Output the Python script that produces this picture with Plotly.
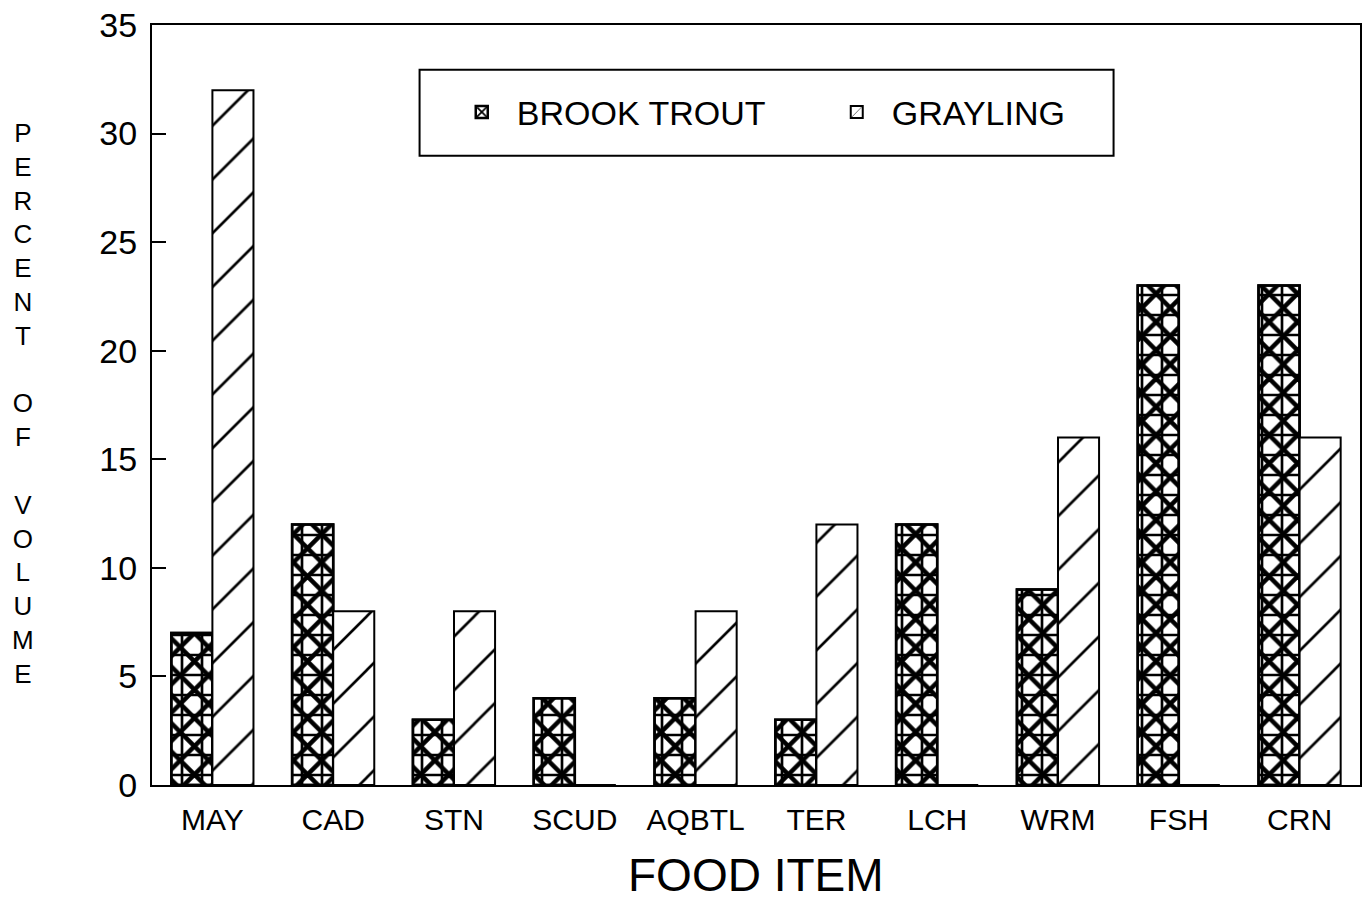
import plotly.graph_objects as go

categories = ["MAY", "CAD", "STN", "SCUD", "AQBTL", "TER", "LCH", "WRM", "FSH", "CRN"]
brook_trout = [7, 12, 3, 4, 4, 3, 12, 9, 23, 23]
grayling = [32, 8, 8, 0, 8, 12, 0, 16, 0, 16]
y_ticks = [0, 5, 10, 15, 20, 25, 30, 35]

FONT = "Liberation Sans, Arial, sans-serif"

fig = go.Figure()
fig.add_trace(go.Bar(
    x=categories, y=brook_trout, name="BROOK TROUT", offsetgroup="bt",
    marker=dict(color="white", line=dict(color="black", width=2.5),
                pattern=dict(shape="x", size=20, solidity=0.4, fgopacity=1,
                             fgcolor="black", bgcolor="white", fillmode="overlay")),
))
fig.add_trace(go.Bar(
    x=categories, y=brook_trout, name="BROOK TROUT", offsetgroup="bt",
    showlegend=False, hoverinfo="skip",
    marker=dict(color="rgba(0,0,0,0)", line=dict(color="black", width=2.5),
                pattern=dict(shape="+", size=20, solidity=0.25, fgopacity=1,
                             fgcolor="black", bgcolor="rgba(0,0,0,0)", fillmode="overlay")),
))
fig.add_trace(go.Bar(
    x=categories, y=grayling, name="GRAYLING", offsetgroup="gr",
    marker=dict(color="white", line=dict(color="black", width=2),
                pattern=dict(shape="/", size=38, solidity=0.07, fgopacity=1,
                             fgcolor="black", bgcolor="white", fillmode="overlay")),
))

fig.update_layout(
    width=1368, height=901,
    paper_bgcolor="white", plot_bgcolor="white",
    margin=dict(l=152, r=6, t=22, b=116),
    barmode="group", bargap=0.32, bargroupgap=0,
    font=dict(family=FONT, color="black"),
    showlegend=True,
    legend=dict(orientation="h", x=0.244, xanchor="left", y=0.885, yanchor="middle",
                bgcolor="rgba(0,0,0,0)", borderwidth=0,
                font=dict(size=34, family=FONT), itemwidth=60, entrywidth=300,
                traceorder="normal"),
    xaxis=dict(showline=True, linecolor="black", linewidth=2, mirror=True,
               ticks="", showgrid=False, tickfont=dict(size=30, family=FONT),
               ticklabelstandoff=7),
    yaxis=dict(range=[0, 35], tickvals=y_ticks, showline=True, linecolor="black",
               linewidth=2, mirror=True, ticks="inside", ticklen=14, tickwidth=2,
               tickcolor="black", showgrid=False, zeroline=False,
               tickfont=dict(size=34, family=FONT), ticklabelstandoff=6),
    shapes=[dict(type="rect", xref="paper", yref="paper", x0=0.2215, x1=0.796,
                 y0=0.828, y1=0.941, line=dict(color="black", width=2))],
    annotations=[
        dict(text="FOOD ITEM", xref="paper", yref="paper", x=0.5, y=-0.118,
             showarrow=False, font=dict(size=46, family=FONT), yanchor="middle"),
        dict(text="<br>".join(list("PERCENT") + [" "] + list("OF") + [" "] + list("VOLUME")),
             xref="paper", yref="paper", x=-0.107, y=0.502, showarrow=False,
             font=dict(size=26, family=FONT), xanchor="center", yanchor="middle"),
    ],
)

fig.write_html("out.html", config={"displayModeBar": False},
               post_script="document.body.style.margin='0';document.body.style.overflow='hidden';")
